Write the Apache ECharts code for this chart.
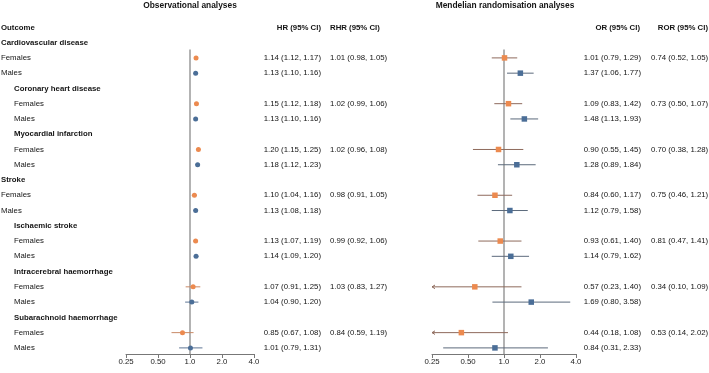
<!DOCTYPE html>
<html>
<head>
<meta charset="utf-8">
<script src="https://cdn.jsdelivr.net/npm/echarts@6/dist/echarts.min.js"></script>
<style>
  html, body { margin: 0; padding: 0; background: #fff; }
  #chart { width: 709px; height: 373px; }
</style>
</head>
<body>
<div id="chart"></div>
<script>
// outcomes, each has a Females row and a Males row
var groups = ['Cardiovascular disease', 'Coronary heart disease', 'Myocardial infarction', 'Stroke',
  'Ischaemic stroke', 'Intracerebral haemorrhage', 'Subarachnoid haemorrhage']
var groupIndent = [0, 1, 1, 0, 1, 1, 1]
// [estimate, lower, upper]
var obsFemales = [[1.14, 1.12, 1.17], [1.15, 1.12, 1.18], [1.20, 1.15, 1.25], [1.10, 1.04, 1.16], [1.13, 1.07, 1.19], [1.07, 0.91, 1.25], [0.85, 0.67, 1.08]]
var obsMales = [[1.13, 1.10, 1.16], [1.13, 1.10, 1.16], [1.18, 1.12, 1.23], [1.13, 1.08, 1.18], [1.14, 1.09, 1.20], [1.04, 0.90, 1.20], [1.01, 0.79, 1.31]]
var obsRatio = [[1.01, 0.98, 1.05], [1.02, 0.99, 1.06], [1.02, 0.96, 1.08], [0.98, 0.91, 1.05], [0.99, 0.92, 1.06], [1.03, 0.83, 1.27], [0.84, 0.59, 1.19]]
var mrFemales = [[1.01, 0.79, 1.29], [1.09, 0.83, 1.42], [0.90, 0.55, 1.45], [0.84, 0.60, 1.17], [0.93, 0.61, 1.40], [0.57, 0.23, 1.40], [0.44, 0.18, 1.08]]
var mrMales = [[1.37, 1.06, 1.77], [1.48, 1.13, 1.93], [1.28, 0.89, 1.84], [1.12, 0.79, 1.58], [1.14, 0.79, 1.62], [1.69, 0.80, 3.58], [0.84, 0.31, 2.33]]
var mrRatio = [[0.74, 0.52, 1.05], [0.73, 0.50, 1.07], [0.70, 0.38, 1.28], [0.75, 0.46, 1.21], [0.81, 0.47, 1.41], [0.34, 0.10, 1.09], [0.53, 0.14, 2.02]]
var tickLabels = ['0.25', '0.50', '1.0', '2.0', '4.0']

var FONT = '"Liberation Sans", Arial, sans-serif'
var FS = 7.8
var ORANGE = '#EC8A4F'
var BLUE = '#4B6E97'
var XMIN = 0.25

function fmt (t) {
  return t[0].toFixed(2) + ' (' + t[1].toFixed(2) + ', ' + t[2].toFixed(2) + ')'
}

// build text rows
var textRows = []
groups.forEach(function (g, i) {
  var x = groupIndent[i] ? 14 : 1
  textRows.push({ row: 3 * i, label: g, bold: true, x: x })
  textRows.push({ row: 3 * i + 1, label: 'Females', x: x, hr: fmt(obsFemales[i]), rhr: fmt(obsRatio[i]), or: fmt(mrFemales[i]), ror: fmt(mrRatio[i]) })
  textRows.push({ row: 3 * i + 2, label: 'Males', x: x, hr: fmt(obsMales[i]), or: fmt(mrMales[i]) })
})

function pointData (arr, offset) {
  return arr.map(function (t, i) { return [Math.log2(t[0]), 3 * i + offset] })
}
function ciData (arr, offset) {
  return arr.map(function (t, i) {
    return [Math.log2(Math.max(t[1], XMIN)), 3 * i + offset, Math.log2(t[2]), t[1] < XMIN ? 1 : 0]
  })
}

function ciSeries (idx, arr, offset, color) {
  return {
    type: 'custom',
    xAxisIndex: idx,
    yAxisIndex: idx,
    z: 2,
    silent: true,
    data: ciData(arr, offset),
    renderItem: function (params, api) {
      var p1 = api.coord([api.value(0), api.value(1)])
      var p2 = api.coord([api.value(2), api.value(1)])
      var kids = [{
        type: 'line',
        shape: { x1: p1[0], y1: p1[1], x2: p2[0], y2: p2[1] },
        style: { stroke: color, lineWidth: 1 }
      }]
      if (api.value(3)) {
        kids.push({
          type: 'polyline',
          shape: { points: [[p1[0] + 3, p1[1] - 1.8], [p1[0], p1[1]], [p1[0] + 3, p1[1] + 1.8]] },
          style: { stroke: color, lineWidth: 1, fill: null }
        })
      }
      return { type: 'group', children: kids }
    }
  }
}

function refLine (idx) {
  return {
    type: 'line',
    xAxisIndex: idx,
    yAxisIndex: idx,
    symbol: 'none',
    silent: true,
    z: 1,
    lineStyle: { color: '#8a8a8a', width: 1.3 },
    data: [[0, 0.45], [0, 20.4]]
  }
}

function xAxisCfg (idx) {
  return {
    gridIndex: idx,
    type: 'value',
    min: -2,
    max: 2,
    interval: 1,
    splitLine: { show: false },
    axisLine: { onZero: false, lineStyle: { color: '#777', width: 1 } },
    axisTick: { show: true, length: 4, lineStyle: { color: '#777' } },
    axisLabel: {
      color: '#222',
      fontSize: FS,
      fontFamily: FONT,
      margin: 4,
      formatter: function (v) { return tickLabels[v + 2] }
    }
  }
}
function yAxisCfg (idx) {
  return {
    gridIndex: idx,
    type: 'value',
    min: -0.5,
    max: 20.4,
    inverse: true,
    show: false
  }
}

function txt (x, y, text, align, bold, size) {
  return {
    type: 'text',
    x: x,
    y: y,
    style: {
      text: text,
      align: align || 'left',
      verticalAlign: 'middle',
      fill: '#141414',
      fontSize: size || FS,
      fontFamily: FONT,
      fontWeight: bold ? 'bold' : 'normal'
    }
  }
}

var chart = echarts.init(document.getElementById('chart'))
chart.setOption({
  animation: false,
  grid: [
    { left: 126, width: 128, top: 35, height: 319 },
    { left: 432, width: 144, top: 35, height: 319 }
  ],
  xAxis: [xAxisCfg(0), xAxisCfg(1)],
  yAxis: [yAxisCfg(0), yAxisCfg(1)],
  graphic: [
    txt(190, 6, 'Observational analyses', 'center', true, 8.4),
    txt(505, 6, 'Mendelian randomisation analyses', 'center', true, 8.4),
    txt(1, 28, 'Outcome', 'left', true),
    txt(321, 28, 'HR (95% CI)', 'right', true),
    txt(330, 28, 'RHR (95% CI)', 'left', true),
    txt(640, 28, 'OR (95% CI)', 'right', true),
    txt(708, 28, 'ROR (95% CI)', 'right', true)
  ],
  series: [
    refLine(0),
    refLine(1),
    ciSeries(0, obsFemales, 1, '#c98a66'),
    ciSeries(0, obsMales, 2, '#5f7694'),
    ciSeries(1, mrFemales, 1, '#8e6a5c'),
    ciSeries(1, mrMales, 2, '#5c6a7c'),
    { type: 'scatter', xAxisIndex: 0, yAxisIndex: 0, z: 3, symbol: 'circle', symbolSize: 5, itemStyle: { color: ORANGE, opacity: 1 }, data: pointData(obsFemales, 1) },
    { type: 'scatter', xAxisIndex: 0, yAxisIndex: 0, z: 3, symbol: 'circle', symbolSize: 5, itemStyle: { color: BLUE, opacity: 1 }, data: pointData(obsMales, 2) },
    { type: 'scatter', xAxisIndex: 1, yAxisIndex: 1, z: 3, symbol: 'rect', symbolSize: 5.5, itemStyle: { color: ORANGE, opacity: 1 }, data: pointData(mrFemales, 1) },
    { type: 'scatter', xAxisIndex: 1, yAxisIndex: 1, z: 3, symbol: 'rect', symbolSize: 5.5, itemStyle: { color: BLUE, opacity: 1 }, data: pointData(mrMales, 2) },
    {
      // text table, y positions taken from the row axis
      type: 'custom',
      xAxisIndex: 0,
      yAxisIndex: 0,
      silent: true,
      data: textRows.map(function (r) { return [0, r.row] }),
      renderItem: function (params, api) {
        var r = textRows[params.dataIndex]
        var y = api.coord([0, api.value(1)])[1]
        var kids = [txt(r.x, y, r.label, 'left', r.bold)]
        if (r.hr) kids.push(txt(321, y, r.hr, 'right'))
        if (r.rhr) kids.push(txt(330, y, r.rhr, 'left'))
        if (r.or) kids.push(txt(641, y, r.or, 'right'))
        if (r.ror) kids.push(txt(651, y, r.ror, 'left'))
        return { type: 'group', children: kids }
      }
    }
  ]
})
</script>
</body>
</html>
